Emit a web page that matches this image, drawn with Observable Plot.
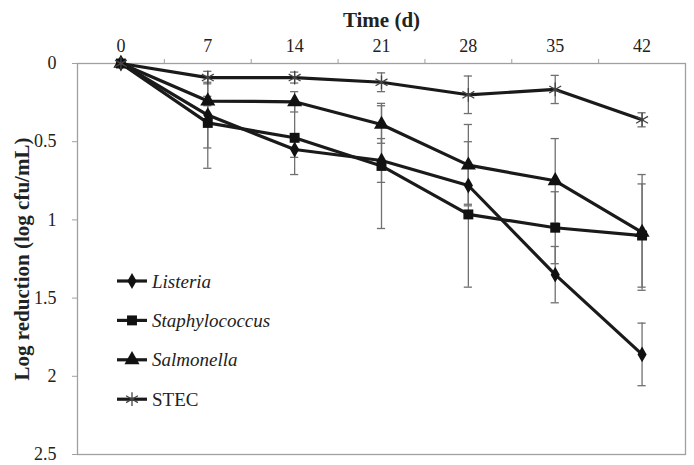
<!DOCTYPE html>
<html>
<head>
<meta charset="utf-8">
<script src="https://cdn.jsdelivr.net/npm/d3@7"></script>
<script src="https://cdn.jsdelivr.net/npm/@observablehq/plot@0.6"></script>
<style>
  html, body { margin: 0; padding: 0; background: #fff; }
  #wrap { position: relative; width: 694px; height: 465px; }
  #wrap svg, #wrap svg text { font-family: 'Liberation Serif', 'Tinos', 'Times New Roman', 'DejaVu Serif', serif !important; }
  #legend { position: absolute; left: 0; top: 0; }
</style>
</head>
<body>
<div id="wrap"></div>
<script>
// ---- data ----
const days = [0, 7, 14, 21, 28, 35, 42];
const seriesNames = ["Listeria", "Staphylococcus", "Salmonella", "STEC"];
const listeria      = [0, 0.33, 0.55, 0.62, 0.78, 1.35, 1.86];
const listeriaErr   = [0, 0.21, 0.05, 0.14, 0.12, 0.18, 0.20];
const staph         = [0, 0.38, 0.475, 0.655, 0.965, 1.05, 1.10];
const staphErr      = [0, 0.29, 0.235, 0.40, 0.465, 0.23, 0.33];
const salmonella    = [0, 0.24, 0.245, 0.39, 0.65, 0.75, 1.08];
const salmonellaErr = [0, 0.03, 0.065, 0.12, 0.26, 0.27, 0.37];
const stec          = [0, 0.09, 0.09, 0.12, 0.20, 0.166, 0.36];
const stecErr       = [0, 0.04, 0.035, 0.06, 0.12, 0.09, 0.045];
const yTicks = [0, 0.5, 1, 1.5, 2, 2.5];
const xBoundaries = [3.5, 10.5, 17.5, 24.5, 31.5, 38.5];

const values = [listeria, staph, salmonella, stec];
const errors = [listeriaErr, staphErr, salmonellaErr, stecErr];
const symbols = ["diamond", "square", "triangle", "asterisk"];
const radii = [4.8, 5.6, 5.6, 6.5];

const rows = [];
seriesNames.forEach((s, i) => days.forEach((d, j) => rows.push({
  series: s, idx: i, day: d, value: values[i][j], err: errors[i][j]
})));
const errRows = rows.filter(r => r.err > 0);

const capHalf = 0.33; // cap half-width in days
const serif = "'Liberation Serif', 'Times New Roman', 'DejaVu Serif', serif";

const marks = [
  Plot.frame({stroke: "#a0a0a0", strokeWidth: 1.3}),
  Plot.axisX({anchor: "top", ticks: days, tickSize: 0, tickPadding: 12, fontSize: 18,
              label: "Time (d)", labelAnchor: "center", labelArrow: "none", labelOffset: 51}),
  Plot.axisX({anchor: "top", ticks: xBoundaries, tickSize: 5, tickFormat: () => "", label: null, stroke: "#a0a0a0"}),
  Plot.axisY({anchor: "left", ticks: yTicks, tickSize: 5, tickPadding: 16, fontSize: 18,
              tickFormat: d => String(d),
              label: "Log reduction (log cfu/mL)", labelAnchor: "center", labelArrow: "none", labelOffset: 63, stroke: "#a0a0a0"}),
  // error bars
  Plot.ruleX(errRows, {x: "day", y1: d => d.value - d.err, y2: d => d.value + d.err, stroke: "#707070", strokeWidth: 1.3}),
  Plot.ruleY(errRows, {y: d => d.value - d.err, x1: d => d.day - capHalf, x2: d => d.day + capHalf, stroke: "#707070", strokeWidth: 1.3}),
  Plot.ruleY(errRows, {y: d => d.value + d.err, x1: d => d.day - capHalf, x2: d => d.day + capHalf, stroke: "#707070", strokeWidth: 1.3}),
  // lines
  Plot.line(rows, {x: "day", y: "value", z: "series", stroke: "#1a1a1a", strokeWidth: 3.2})
];
seriesNames.forEach((s, i) => {
  const sub = rows.filter(r => r.idx === i);
  if (symbols[i] === "asterisk") {
    marks.push(Plot.dot(sub, {x: "day", y: "value", symbol: () => "asterisk", r: radii[i], stroke: "#444", strokeWidth: 1.3, fill: "none"}));
  } else {
    marks.push(Plot.dot(sub, {x: "day", y: "value", symbol: () => symbols[i], r: radii[i], fill: "#111", stroke: "none"}));
  }
});

const chart = Plot.plot({
  width: 694,
  height: 465,
  marginLeft: 77,
  marginRight: 9,
  marginTop: 63,
  marginBottom: 11,
  style: {fontFamily: serif, fontSize: "18px", color: "#222", background: "#fff", overflow: "visible"},
  x: {type: "linear", domain: [-3.5, 45.5]},
  y: {domain: [0, 2.5], reverse: true},
  symbol: {type: "identity"},
  marks
});
document.getElementById("wrap").appendChild(chart);

d3.select(chart).selectAll("text").attr("font-family", serif).style("font-family", serif);
// bold axis titles
d3.select(chart).selectAll('g[aria-label="x-axis label"] text, g[aria-label="y-axis label"] text')
  .style("font-weight", "bold").style("font-size", "21px").style("fill", "#222");

// ---- legend (inside plot area) ----
const lg = d3.select("#wrap").append("svg").attr("id", "legend").attr("width", 694).attr("height", 465);
const legendX = 117, legendY0 = 281, legendStep = 39.4;
seriesNames.forEach((s, i) => {
  const y = legendY0 + i * legendStep;
  const g = lg.append("g").attr("transform", `translate(0,${y})`);
  g.append("line").attr("x1", legendX).attr("x2", legendX + 30).attr("y1", 0).attr("y2", 0)
    .attr("stroke", "#1a1a1a").attr("stroke-width", 3.2);
  const sym = {diamond: d3.symbolDiamond, square: d3.symbolSquare, triangle: d3.symbolTriangle, asterisk: d3.symbolAsterisk}[symbols[i]];
  const p = g.append("path").attr("transform", `translate(${legendX + 15},0)`)
    .attr("d", d3.symbol(sym, Math.PI * radii[i] * radii[i])());
  if (symbols[i] === "asterisk") p.attr("fill", "none").attr("stroke", "#444").attr("stroke-width", 1.3);
  else p.attr("fill", "#111");
  g.append("text").attr("x", legendX + 35).attr("y", 0).attr("dy", "0.35em")
    .attr("font-size", 19).style("font-family", serif)
    .attr("font-style", s === "STEC" ? "normal" : "italic").attr("fill", "#222").text(s);
});
</script>
</body>
</html>
